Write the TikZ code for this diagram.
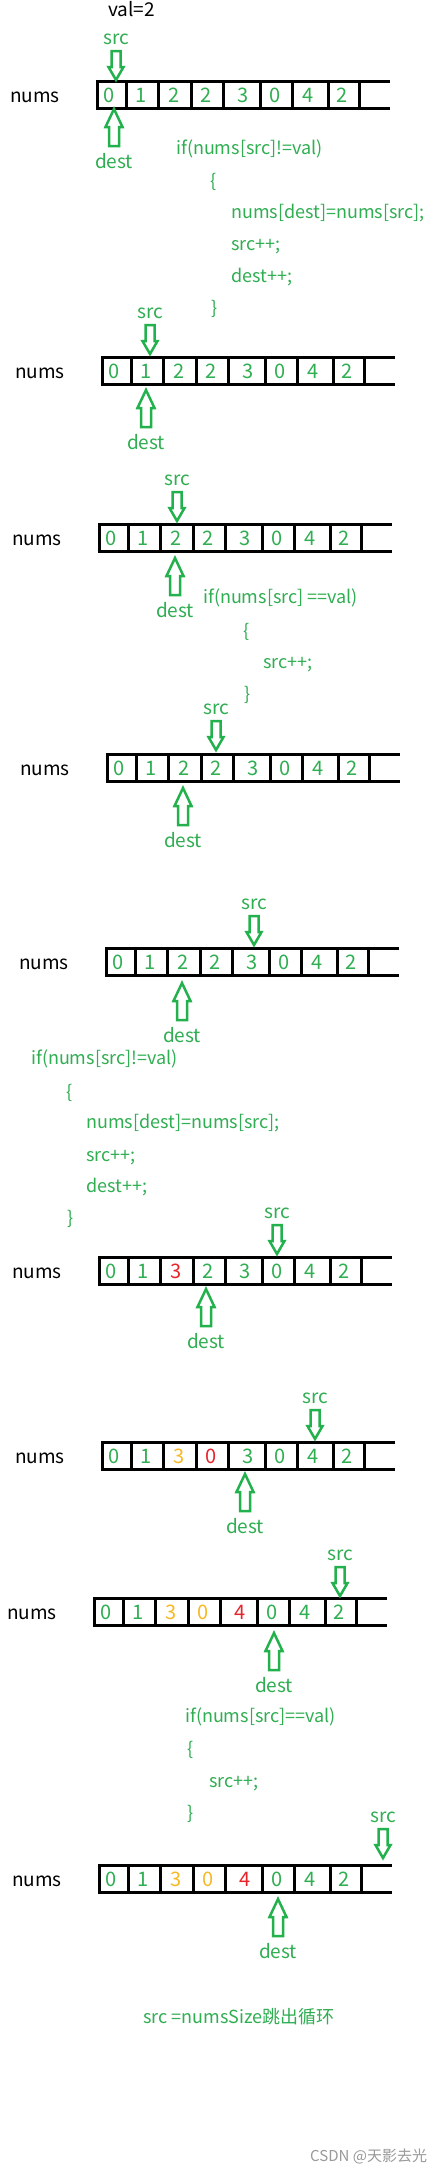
\documentclass[tikz,border=0pt]{standalone}
\usepackage{fontspec}
\setmainfont{Noto Sans CJK SC}
\definecolor{arrowgreen}{HTML}{22B14C}
\definecolor{txtgreen}{HTML}{2FAE52}
\definecolor{cellred}{HTML}{E8242B}
\definecolor{cellorange}{HTML}{F7B924}
\definecolor{wmgray}{HTML}{9A9A9A}
\tikzset{
  cellline/.style={line width=3pt, line join=miter},
  digit/.style={inner sep=0pt, font=\fontsize{20}{20}\selectfont, text height=14pt, text depth=0pt, anchor=center},
  plain/.style={inner sep=0pt, font=\fontsize{19}{19}\selectfont, text height=13.3pt, text depth=1.9pt, anchor=west},
  gtext/.style={plain, text=txtgreen},
  code/.style={gtext, font=\fontsize{18}{18}\selectfont, text height=12.6pt, text depth=1.8pt},
  arrowline/.style={draw=arrowgreen, line width=2.5pt, fill=white, line join=miter},
  srcarrow/.pic={\draw[arrowline] (0,0) -- (7.5,-13) -- (4.5,-13) -- (4.5,-29) -- (-4.5,-29) -- (-4.5,-13) -- (-7.5,-13) -- cycle;},
  destarrow/.pic={\draw[arrowline] (0,0) -- (8.5,18) -- (5,18) -- (5,37) -- (-5,37) -- (-5,18) -- (-8.5,18) -- cycle;}
}
% #1 id, #2 left x, #3 top y, #4 digit/colour list
\newcommand\numsrow[4]{%
  \begin{scope}[shift={(#2,#3)}]
    \draw[cellline] (293,0) -- (0,0) -- (0,27) -- (293,27);
    \foreach \dx in {29,61,94,126,163,195,231,262} \draw[cellline] (\dx,0) -- (\dx,27);
    \foreach \d/\c [count=\i] in {#4} {
      \pgfmathsetmacro\px{{12,44,77,109,146,178,211,245}[\i-1]}
      \node[digit,text=\c] (#1d\i) at (\px,14) {\d};
    }
    \node[plain] (#1n) at (-87,16) {nums};
  \end{scope}}
% #1 id, #2 src x, #3 src tip y, #4 dest x, #5 dest tip y
\newcommand\pointers[5]{%
  \pic at (#2,#3) {srcarrow};
  \node[gtext,anchor=center] (#1s) at (#2,#3-41) {src};
  \pic at (#4,#5) {destarrow};
  \node[gtext,anchor=center] (#1d) at (#4,#5+54) {dest};}
\begin{document}
\begin{tikzpicture}[x=1pt,y=-1pt]
\fill[white] (0,0) rectangle (439,2172);
\useasboundingbox (0,0) rectangle (439,2172);

\node[plain] (val) at (108,11) {val=2};

% state 1
\numsrow{a}{97}{81}{0/txtgreen,1/txtgreen,2/txtgreen,2/txtgreen,3/txtgreen,0/txtgreen,4/txtgreen,2/txtgreen}
\pointers{pa}{116}{80}{114}{109}
\node[code] (c1) at (176,149) {if(nums[src]!=val)};
\node[code] (c2) at (210,182) {\{};
\node[code] (c3) at (231,213) {nums[dest]=nums[src];};
\node[code] (c4) at (231,245) {src++;};
\node[code] (c5) at (231,277) {dest++;};
\node[code] (c6) at (211,309) {\}};

% state 2
\numsrow{b}{102}{357}{0/txtgreen,1/txtgreen,2/txtgreen,2/txtgreen,3/txtgreen,0/txtgreen,4/txtgreen,2/txtgreen}
\pointers{pb}{150}{354}{146}{390}

% state 3
\numsrow{c}{99}{524}{0/txtgreen,1/txtgreen,2/txtgreen,2/txtgreen,3/txtgreen,0/txtgreen,4/txtgreen,2/txtgreen}
\pointers{pc}{177}{521}{175}{558}
\node[code] (e1) at (203,598) {if(nums[src] ==val)};
\node[code] (e2) at (243,632) {\{};
\node[code] (e3) at (263,663) {src++;};
\node[code] (e4) at (244,695) {\}};

% state 4
\numsrow{d}{107}{754}{0/txtgreen,1/txtgreen,2/txtgreen,2/txtgreen,3/txtgreen,0/txtgreen,4/txtgreen,2/txtgreen}
\pointers{pd}{216}{750}{183}{788}

% state 5
\numsrow{e}{106}{948}{0/txtgreen,1/txtgreen,2/txtgreen,2/txtgreen,3/txtgreen,0/txtgreen,4/txtgreen,2/txtgreen}
\pointers{pe}{254}{945}{182}{983}
\node[code] (f1) at (31,1059) {if(nums[src]!=val)};
\node[code] (f2) at (66,1093) {\{};
\node[code] (f3) at (86,1123) {nums[dest]=nums[src];};
\node[code] (f4) at (86,1156) {src++;};
\node[code] (f5) at (86,1187) {dest++;};
\node[code] (f6) at (67,1219) {\}};

% state 6
\numsrow{f}{99}{1257}{0/txtgreen,1/txtgreen,3/cellred,2/txtgreen,3/txtgreen,0/txtgreen,4/txtgreen,2/txtgreen}
\pointers{pf}{277}{1254}{206}{1289}

% state 7
\numsrow{g}{102}{1442}{0/txtgreen,1/txtgreen,3/cellorange,0/cellred,3/txtgreen,0/txtgreen,4/txtgreen,2/txtgreen}
\pointers{pg}{315}{1439}{245}{1474}

% state 8
\numsrow{h}{94}{1598}{0/txtgreen,1/txtgreen,3/cellorange,0/cellorange,4/cellred,0/txtgreen,4/txtgreen,2/txtgreen}
\pointers{ph}{340}{1596}{274}{1633}
\node[code] (g1) at (185,1717) {if(nums[src]==val)};
\node[code] (g2) at (187,1750) {\{};
\node[code] (g3) at (209,1782) {src++;};
\node[code] (g4) at (187,1814) {\}};

% state 9
\numsrow{i}{99}{1865}{0/txtgreen,1/txtgreen,3/cellorange,0/cellorange,4/cellred,0/txtgreen,4/txtgreen,2/txtgreen}
\pointers{pi}{383}{1858}{278}{1899}

\node[code] (end) at (143,2018) {src =numsSize跳出循环};
\node[plain, text=wmgray, font=\fontsize{15}{15}\selectfont] (wm) at (310,2156) {CSDN @天影去光};
\end{tikzpicture}
\end{document}
